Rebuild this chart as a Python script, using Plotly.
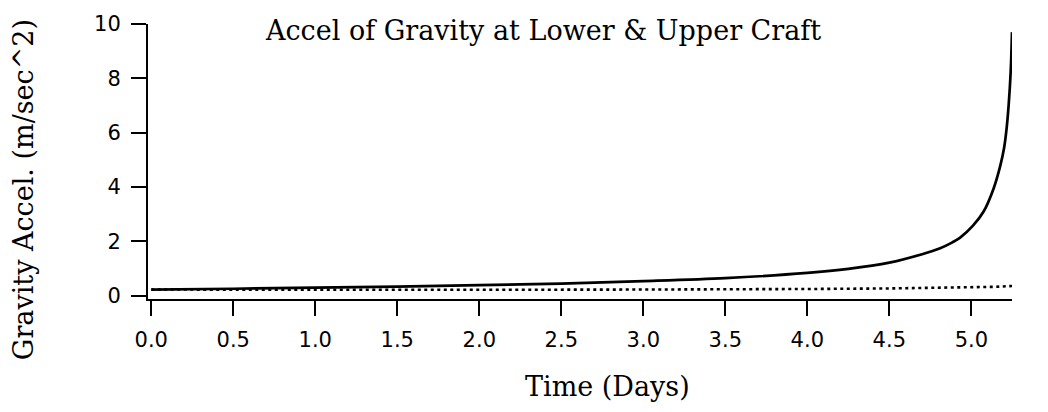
import plotly.graph_objects as go

# Lower craft (solid) gravity acceleration vs time (days)
t_lower = [0.0, 0.5, 1.0, 1.5, 2.0, 2.5, 3.0, 3.5, 4.0, 4.25, 4.5, 4.7, 4.81, 4.87, 4.93,
           5.01, 5.075, 5.136, 5.177, 5.2, 5.215, 5.228, 5.24, 5.248]
g_lower = [0.23, 0.26, 0.30, 0.34, 0.39, 0.45, 0.54, 0.65, 0.84, 0.99, 1.22, 1.53, 1.75, 1.92, 2.13,
           2.58, 3.1, 3.95, 4.8, 5.45, 6.15, 7.05, 8.25, 9.7]

# Upper craft (dotted)
t_upper = [0.0, 1.0, 2.0, 3.0, 3.5, 4.0, 4.5, 4.8, 5.0, 5.15, 5.248]
g_upper = [0.23, 0.22, 0.22, 0.23, 0.23, 0.25, 0.27, 0.29, 0.31, 0.33, 0.36]

y_ticks = [0, 2, 4, 6, 8, 10]
x_ticks = [0.0, 0.5, 1.0, 1.5, 2.0, 2.5, 3.0, 3.5, 4.0, 4.5, 5.0]
x_tick_labels = ["0.0", "0.5", "1.0", "1.5", "2.0", "2.5", "3.0", "3.5", "4.0", "4.5", "5.0"]

W, H = 1048, 412
L, R, T, B = 148, 36, 16, 113
PW, PH = W - L - R, H - T - B

def px(x):
    return (x - L) / PW

def py(y):
    return (H - B - y) / PH

fig = go.Figure()
fig.add_trace(go.Scatter(x=t_upper, y=g_upper, mode="lines",
                         line=dict(color="black", width=2.6, dash="3px,3.5px"),
                         showlegend=False))
fig.add_trace(go.Scatter(x=t_lower, y=g_lower, mode="lines",
                         line=dict(color="black", width=2.7, shape="spline", smoothing=0.9),
                         showlegend=False))

serif = "DejaVu Serif"
sans = "DejaVu Sans"

fig.update_layout(
    width=W, height=H,
    margin=dict(l=L, r=R, t=T, b=B, pad=0),
    paper_bgcolor="white", plot_bgcolor="white",
    xaxis=dict(range=[-0.02, 5.248], tickvals=x_ticks, ticktext=x_tick_labels,
               showgrid=False, zeroline=False, showline=True, linecolor="black", linewidth=2,
               ticks="outside", ticklen=15, tickwidth=2, tickcolor="black",
               tickfont=dict(family=sans, size=21, color="black"), ticklabelstandoff=6),
    yaxis=dict(range=[-0.118, 10], tickvals=y_ticks,
               showgrid=False, zeroline=False, showline=True, linecolor="black", linewidth=2,
               ticks="outside", ticklen=15, tickwidth=2, tickcolor="black",
               tickfont=dict(family=sans, size=21, color="black"), ticklabelstandoff=6),
    annotations=[
        dict(text="Accel of Gravity at Lower &amp; Upper Craft", xref="paper", yref="paper",
             x=px(543), y=py(23), xanchor="center", yanchor="middle", showarrow=False,
             font=dict(family=serif, size=27, color="black")),
        dict(text="Time (Days)", xref="paper", yref="paper",
             x=px(607), y=py(389), xanchor="center", yanchor="middle", showarrow=False,
             font=dict(family=serif, size=27, color="black")),
        dict(text="Gravity Accel. (m/sec^2)", xref="paper", yref="paper",
             x=px(23), y=py(187), xanchor="center", yanchor="middle", showarrow=False,
             textangle=-90, font=dict(family=serif, size=27, color="black")),
    ],
)

fig.write_html("out.html")
